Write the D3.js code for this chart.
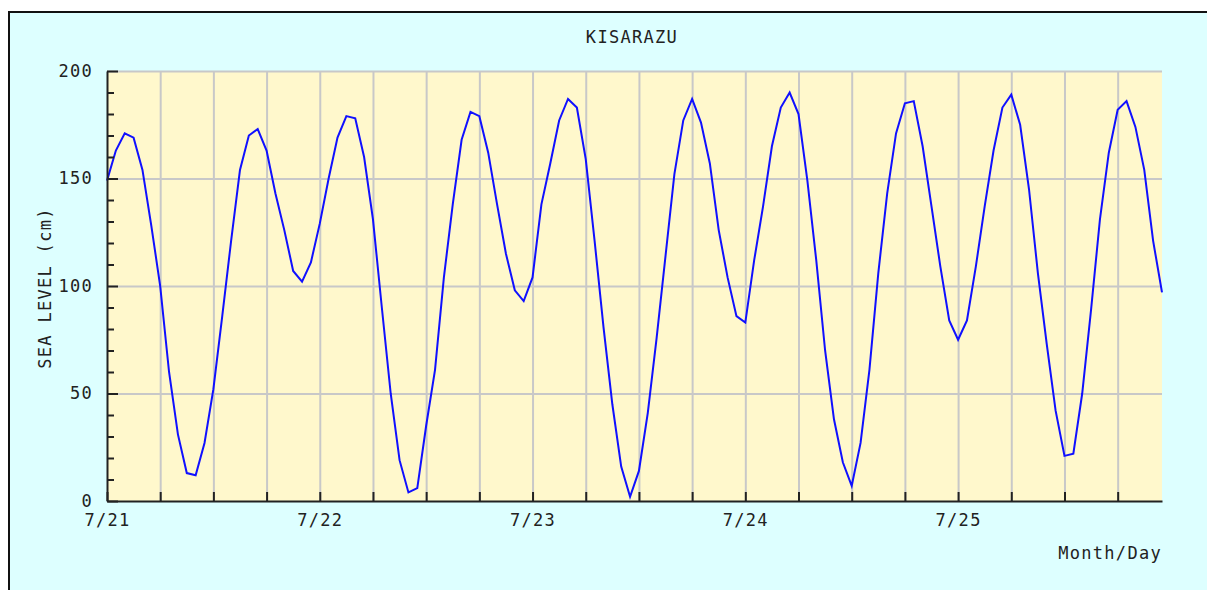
<!DOCTYPE html>
<html>
<head>
<meta charset="utf-8">
<script src="https://cdn.jsdelivr.net/npm/d3@7/dist/d3.min.js"></script>
<style>
  html, body { margin: 0; padding: 0; background: #ffffff; }
  svg { display: block; }
  text { font-family: "DejaVu Sans Mono", monospace; font-size: 17px; fill: #222; letter-spacing: 1.3px; }
</style>
</head>
<body>
<svg id="chart" width="1207" height="590"></svg>
<script>
// ---- data ----
const stationName = "KISARAZU";
const startDate = "2000-07-21T00:00";        // first hourly reading (7/21 00:00)
const seaLevelCm = [
  149, 163, 171, 169, 154, 128, 100, 60, 31, 13, 12, 27,
  52, 86, 121, 154, 170, 173, 163, 143, 126, 107, 102, 111,
  129, 150, 169, 179, 178, 160, 131, 90, 50, 19, 4, 6,
  35, 61, 104, 138, 168, 181, 179, 162, 138, 115, 98, 93,
  104, 138, 157, 177, 187, 183, 159, 121, 81, 45, 16, 2,
  14, 41, 76, 114, 152, 177, 187, 176, 157, 126, 104, 86,
  83, 112, 137, 165, 183, 190, 180, 149, 112, 70, 38, 18,
  7, 27, 61, 106, 143, 171, 185, 186, 165, 137, 109, 84,
  75, 84, 109, 137, 163, 183, 189, 175, 145, 106, 73, 42,
  21, 22, 50, 89, 131, 162, 182, 186, 174, 154, 121, 97
];
const yMajorTicks = [0, 50, 100, 150, 200];
const yMinorTicks = [10, 20, 30, 40, 60, 70, 80, 90, 110, 120, 130, 140, 160, 170, 180, 190];
const yAxisTitle = "SEA LEVEL (cm)";
const xAxisTitle = "Month/Day";

// ---- layout ----
const W = 1207, H = 590;
const plot = { left: 107, right: 1162, top: 71, bottom: 501 };

const svg = d3.select("#chart");
const parse = d3.timeParse("%Y-%m-%dT%H:%M");
const t0 = parse(startDate);
const data = seaLevelCm.map((v, i) => ({ t: d3.timeHour.offset(t0, i), v }));

// background + frame
svg.append("rect").attr("x", 0).attr("y", 0).attr("width", W).attr("height", H).attr("fill", "#ffffff");
svg.append("rect").attr("x", 9).attr("y", 12).attr("width", W + 20).attr("height", H + 20)
  .attr("fill", "#ddffff").attr("stroke", "#111").attr("stroke-width", 2);

const x = d3.scaleTime().domain([data[0].t, data[data.length - 1].t]).range([plot.left, plot.right]);
const y = d3.scaleLinear().domain([0, 200]).range([plot.bottom, plot.top]);

// plot area
svg.append("rect").attr("x", plot.left).attr("y", plot.top)
  .attr("width", plot.right - plot.left).attr("height", plot.bottom - plot.top)
  .attr("fill", "#fff8cc");

const sixHours = x.ticks(d3.timeHour.every(6));

// vertical grid
svg.append("g").attr("transform", `translate(0,${plot.bottom})`)
  .call(d3.axisBottom(x).tickValues(sixHours.filter(d => +d !== +t0))
    .tickSize(-(plot.bottom - plot.top)).tickFormat(""))
  .call(g => g.select(".domain").remove())
  .call(g => g.selectAll("line").attr("stroke", "#c8c8c8").attr("stroke-width", 2));

// horizontal grid
svg.append("g").attr("transform", `translate(${plot.left},0)`)
  .call(d3.axisLeft(y).tickValues(yMajorTicks.filter(v => v > 0))
    .tickSize(-(plot.right - plot.left)).tickFormat(""))
  .call(g => g.select(".domain").remove())
  .call(g => g.selectAll("line").attr("stroke", "#c8c8c8").attr("stroke-width", 2));

// tide line
const line = d3.line().x(d => x(d.t)).y(d => y(d.v));
svg.append("path").datum(data).attr("d", line)
  .attr("fill", "none").attr("stroke", "#1010ff").attr("stroke-width", 2)
  .attr("stroke-linejoin", "miter");

// x axis (ticks inward)
const fmtDay = d3.timeFormat("%-m/%-d");
svg.append("g").attr("transform", `translate(0,${plot.bottom})`)
  .call(d3.axisBottom(x).tickValues(sixHours).tickSizeInner(-9).tickSizeOuter(0).tickPadding(13)
    .tickFormat(d => d.getHours() === 0 ? fmtDay(d) : ""))
  .call(g => g.select(".domain").attr("stroke", "#222").attr("stroke-width", 2))
  .call(g => g.selectAll("line").attr("stroke", "#222").attr("stroke-width", 2))
  .call(g => g.selectAll("text").attr("font-family", null).attr("font-size", null)
    .style("fill", "#222").attr("dx", "0"));

// y axis minor ticks
svg.append("g").attr("transform", `translate(${plot.left},0)`)
  .call(d3.axisLeft(y).tickValues(yMinorTicks).tickSizeInner(-7).tickSizeOuter(0).tickFormat(""))
  .call(g => g.select(".domain").remove())
  .call(g => g.selectAll("line").attr("stroke", "#222").attr("stroke-width", 2));

// y axis major ticks + labels
svg.append("g").attr("transform", `translate(${plot.left},0)`)
  .call(d3.axisLeft(y).tickValues(yMajorTicks).tickSizeInner(-11).tickSizeOuter(0).tickPadding(14))
  .call(g => g.select(".domain").attr("stroke", "#222").attr("stroke-width", 2))
  .call(g => g.selectAll("line").attr("stroke", "#222").attr("stroke-width", 2))
  .call(g => g.selectAll("text").attr("font-family", null).attr("font-size", null).style("fill", "#222"));

// titles
svg.append("text").attr("x", 632).attr("y", 43).attr("text-anchor", "middle").text(stationName);
svg.append("text").attr("x", 1162).attr("y", 559).attr("text-anchor", "end").text(xAxisTitle);
svg.append("text").attr("transform", "translate(51,288) rotate(-90)").attr("text-anchor", "middle").text(yAxisTitle);
</script>
</body>
</html>
